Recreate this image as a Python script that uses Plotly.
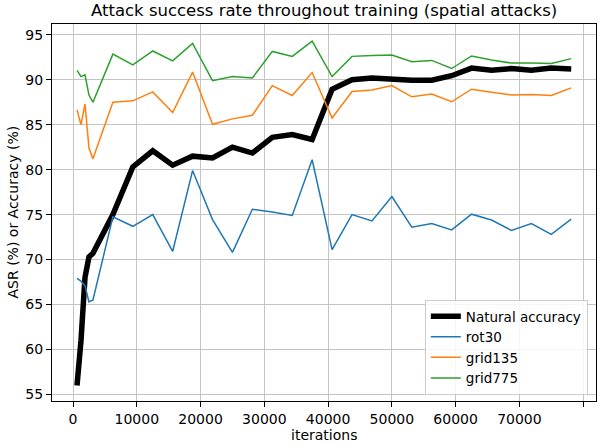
import plotly.graph_objects as go

iterations = [625, 1250, 1875, 2500, 3125, 6250, 9375, 12500, 15625, 18750, 21875, 25000,
              28125, 31250, 34375, 37500, 40625, 43750, 46875, 50000, 53125, 56250, 59375,
              62500, 65625, 68750, 71875, 75000, 78125]

natural = [56.0, 61.0, 68.0, 70.3, 70.7, 75.0, 80.3, 82.1, 80.5, 81.5, 81.3, 82.5,
           81.85, 83.6, 83.9, 83.35, 88.95, 90.0, 90.2, 90.05, 89.95, 89.95, 90.45,
           91.3, 91.05, 91.25, 91.05, 91.3, 91.2]

rot30 = [67.9, 67.6, 67.1, 65.3, 65.5, 74.75, 73.7, 75.0, 70.9, 79.9, 74.45, 70.8,
         75.6, 75.3, 74.9, 81.1, 71.1, 75.0, 74.3, 77.0, 73.6, 74.0, 73.3,
         75.05, 74.4, 73.25, 74.0, 72.8, 74.5]

grid135 = [86.65, 85.0, 87.3, 82.4, 81.2, 87.5, 87.65, 88.65, 86.35, 90.85, 85.05, 85.65,
           86.05, 89.35, 88.25, 90.8, 85.75, 88.7, 88.85, 89.35, 88.1, 88.4, 87.55,
           88.95, 88.6, 88.3, 88.35, 88.25, 89.1]

grid775 = [91.05, 90.35, 90.55, 88.3, 87.5, 92.85, 91.65, 93.2, 92.1, 94.05, 89.9, 90.35,
           90.2, 93.15, 92.6, 94.3, 90.35, 92.6, 92.7, 92.75, 92.0, 92.15, 91.25,
           92.65, 92.2, 91.85, 91.85, 91.8, 92.35]

x_ticks = [0, 10000, 20000, 30000, 40000, 50000, 60000, 70000, 80000]
y_ticks = [55, 60, 65, 70, 75, 80, 85, 90, 95]

FONT = "DejaVu Sans"
W, H = 603, 445
L, R, T, B = 52, 7, 24, 44
PW, PH = W - L - R, H - T - B

fig = go.Figure()
fig.add_trace(go.Scatter(x=iterations, y=natural, mode="lines", name="Natural accuracy",
                         line=dict(color="black", width=5.5)))
fig.add_trace(go.Scatter(x=iterations, y=rot30, mode="lines", name="rot30",
                         line=dict(color="#1f77b4", width=1.5)))
fig.add_trace(go.Scatter(x=iterations, y=grid135, mode="lines", name="grid135",
                         line=dict(color="#ff7f0e", width=1.5)))
fig.add_trace(go.Scatter(x=iterations, y=grid775, mode="lines", name="grid775",
                         line=dict(color="#2ca02c", width=1.5)))

axis_common = dict(
    showline=True, linecolor="black", linewidth=1, mirror=True,
    ticks="outside", ticklen=5, tickwidth=1, tickcolor="black",
    showgrid=True, gridcolor="#c4c4c4", gridwidth=1.3,
    zeroline=False, automargin=False,
    tickfont=dict(family=FONT, size=14, color="black"),
)

fig.update_layout(
    width=W, height=H,
    margin=dict(l=L, r=R, t=T, b=B, autoexpand=False),
    paper_bgcolor="white", plot_bgcolor="white",
    font=dict(family=FONT, size=14, color="black"),
    xaxis=dict(range=[-3297, 82010], tickvals=x_ticks,
               ticktext=[str(v) for v in x_ticks], **axis_common),
    yaxis=dict(range=[54.27, 96.2], tickvals=y_ticks,
               ticktext=[str(v) for v in y_ticks], **axis_common),
    legend=dict(x=0.985, y=0.016, xanchor="right", yanchor="bottom",
                bgcolor="rgba(255,255,255,0.85)", bordercolor="#cccccc", borderwidth=1,
                font=dict(family=FONT, size=13.5, color="black"),
                itemwidth=30, tracegroupgap=0),
    showlegend=True,
    annotations=[
        dict(text="Attack success rate throughout training (spatial attacks)",
             xref="paper", yref="paper", x=0.5, y=(PH + T - 11) / PH,
             xanchor="center", yanchor="middle", showarrow=False,
             font=dict(family=FONT, size=16.5, color="black")),
        dict(text="iterations", xref="paper", yref="paper", x=0.5,
             y=-(435 - (T + PH)) / PH, xanchor="center", yanchor="middle",
             showarrow=False, font=dict(family=FONT, size=14, color="black")),
        dict(text="ASR (%) or Accuracy (%)", xref="paper", yref="paper",
             x=(12 - L) / PW, y=0.5, xanchor="center", yanchor="middle",
             textangle=-90, showarrow=False,
             font=dict(family=FONT, size=14, color="black")),
    ],
)

fig.write_html("out.html", config={"displayModeBar": False},
               post_script="document.body.style.margin='0';document.body.style.padding='0';")
